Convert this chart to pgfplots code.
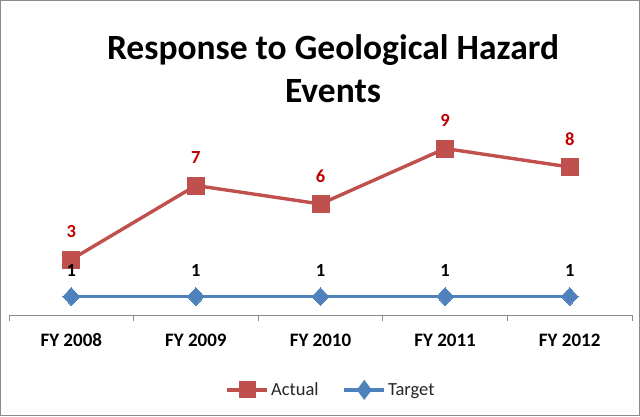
\documentclass[border=0pt]{standalone}
\usepackage{pgfplots}
\pgfplotsset{compat=1.18}
\usepackage{fontspec}
\setmainfont{Carlito}
\definecolor{actualc}{HTML}{C0504D}
\definecolor{targetc}{HTML}{4F81BD}
\definecolor{lblred}{HTML}{C00000}
\definecolor{framec}{HTML}{8C8C8C}
\begin{document}
\begin{tikzpicture}[x=1pt,y=1pt]
  % chart area, 1pt = 1px of the reference
  \draw[framec,line width=1pt,fill=white] (0.5,0.5) rectangle (639.5,415.5);
  \node[font=\bfseries\fontsize{35.5}{43}\selectfont,align=center] at (333,347)
    {Response to Geological Hazard\\Events};
  \begin{axis}[
    at={(9pt,101pt)},
    anchor=south west,
    scale only axis,
    width=623pt,
    height=185pt,
    xmin=-0.5, xmax=4.5,
    ymin=0, ymax=10,
    axis y line=none,
    axis x line*=bottom,
    x axis line style={framec,line width=0.8pt,-},
    xtick={-0.5,0.5,1.5,2.5,3.5,4.5},
    xticklabels={},
    extra x ticks={0,1,2,3,4},
    extra x tick labels={FY 2008,FY 2009,FY 2010,FY 2011,FY 2012},
    extra x tick style={major tick length=0pt,
      ticklabel style={font=\bfseries\fontsize{19}{20}\selectfont,anchor=center,yshift=-25pt}},
    major tick length=6pt,
    tick style={framec,line width=0.8pt},
    xtick align=outside,
    clip=false,
    /pgf/number format/assume math mode=true,
    legend style={at={(0.517,-0.405)},anchor=center,draw=none,fill=none,
      legend columns=2,font=\fontsize{18.5}{20}\selectfont,text=black!85,
      /tikz/every even column/.append style={column sep=22pt}},
    legend image code/.code={
      \draw[#1,mark repeat=2,mark phase=2,mark options={scale=0.8}]
        plot coordinates {(0pt,0pt) (20pt,0pt) (40pt,0pt)};},
  ]
    \addplot[actualc,line width=3.4pt,mark=square*,mark size=8.5pt,
      mark options={solid,line width=0pt},
      nodes near coords,
      every node near coord/.append style={lblred,font=\bfseries\fontsize{18.5}{20}\selectfont,anchor=center,yshift=28pt}]
      coordinates {(0,3) (1,7) (2,6) (3,9) (4,8)};
    \addlegendentry{Actual}
    \addplot[targetc,line width=3.4pt,mark=diamond*,mark size=9pt,
      mark options={solid,line width=0pt,xscale=1.25},
      nodes near coords,
      every node near coord/.append style={black,font=\bfseries\fontsize{18.5}{20}\selectfont,anchor=center,yshift=26pt}]
      coordinates {(0,1) (1,1) (2,1) (3,1) (4,1)};
    \addlegendentry{Target}
  \end{axis}
\end{tikzpicture}
\end{document}
